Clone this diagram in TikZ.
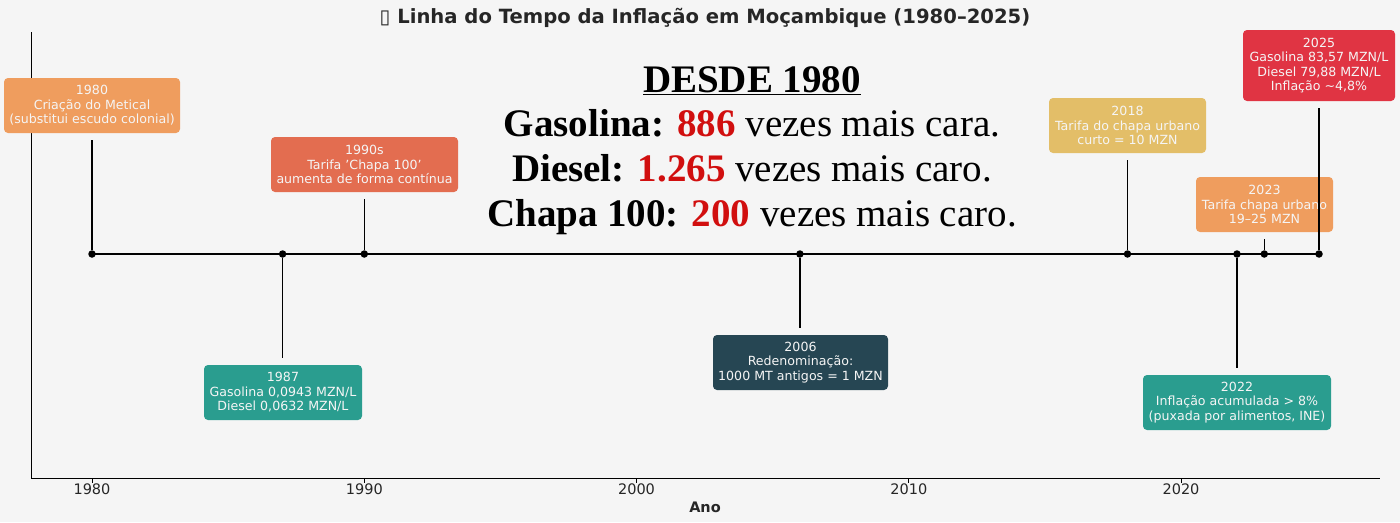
\documentclass[tikz,border=0pt]{standalone}
\usepackage{fontspec}
\setmainfont{DejaVu Sans}
\newfontfamily\bigserif{Liberation Serif}
\usetikzlibrary{positioning}

\definecolor{bgcol}{HTML}{F5F5F5}
\definecolor{darkteal}{HTML}{264653}
\definecolor{teal}{HTML}{2A9D8F}
\definecolor{saffron}{HTML}{E3BE68}
\definecolor{sandy}{HTML}{EF9D5E}
\definecolor{burnt}{HTML}{E36D50}
\definecolor{crimson}{HTML}{E03443}
\definecolor{numred}{HTML}{D10F0F}

\tikzset{
  evbox/.style={rounded corners=4pt, text=white!96!black,
    align=center, inner sep=0pt, font=\fontsize{12.6}{14.5}\selectfont},
  evdot/.style={circle, fill=black, inner sep=0pt, minimum size=7.5pt},
  stem/.style={line width=1.3pt, shorten >=7pt},
  bigline/.style={anchor=base, font=\bigserif\fontsize{39}{44}\selectfont},
}

\begin{document}
\begin{tikzpicture}[x=1pt,y=-1pt]
    % background and frame
    \fill[bgcol] (0,0) rectangle (1400,522);
    \useasboundingbox (0,0) rectangle (1400,522);

    \node[font=\bfseries\fontsize{19.6}{21}\selectfont, text=black!85] (title) at (705,18)
        {▯ Linha do Tempo da Inflação em Moçambique (1980–2025)};

    % axes
    \draw[line width=1pt] (31,32) -- (31,478) -- (1380,478);
    \foreach \yr/\xx in {1980/92, 1990/364.3, 2000/636.5, 2010/908.8, 2020/1181} {
        \draw[line width=0.8pt] (\xx,478) -- (\xx,482.5);
        \node[font=\fontsize{14.5}{16}\selectfont, text=black!85] (tick\yr) at (\xx,489) {\yr};
    }
    \node[font=\bfseries\fontsize{14.5}{16}\selectfont, text=black!85] (xlabel) at (705,507) {Ano};

    % timeline
    \draw[line width=2.3pt] (92,254) -- (1319,254);
    \node[evdot] (p1980) at (92,254) {};
    \node[evdot] (p1987) at (282.6,254) {};
    \node[evdot] (p1990) at (364.3,254) {};
    \node[evdot] (p2006) at (799.9,254) {};
    \node[evdot] (p2018) at (1127.5,254) {};
    \node[evdot] (p2022) at (1237,254) {};
    \node[evdot] (p2023) at (1264.3,254) {};
    \node[evdot] (p2025) at (1319,254) {};

    % event boxes
    \node[evbox, fill=sandy, minimum width=176pt, minimum height=55pt] (b1980) at (92,105.5)
        {1980\\Criação do Metical\\(substitui escudo colonial)};
    \node[evbox, fill=teal, minimum width=158pt, minimum height=55pt] (b1987) at (283,392.5)
        {1987\\Gasolina 0,0943 MZN/L\\Diesel 0,0632 MZN/L};
    \node[evbox, fill=burnt, minimum width=187pt, minimum height=55pt] (b1990) at (364.5,164.5)
        {1990s\\Tarifa 'Chapa 100'\\aumenta de forma contínua};
    \node[evbox, fill=darkteal, minimum width=175pt, minimum height=55pt] (b2006) at (800.5,362.5)
        {2006\\Redenominação:\\1000 MT antigos = 1 MZN};
    \node[evbox, fill=saffron, minimum width=157pt, minimum height=55pt] (b2018) at (1127.5,125.5)
        {2018\\Tarifa do chapa urbano\\curto = 10 MZN};
    \node[evbox, fill=teal, minimum width=188pt, minimum height=55pt] (b2022) at (1237,402.5)
        {2022\\Inflação acumulada > 8\%\\(puxada por alimentos, INE)};
    \node[evbox, fill=sandy, minimum width=137pt, minimum height=55pt] (b2023) at (1264.5,204.5)
        {2023\\Tarifa chapa urbano\\19–25 MZN};
    \node[evbox, fill=crimson, minimum width=152pt, minimum height=71pt] (b2025) at (1319,65.5)
        {2025\\Gasolina 83,57 MZN/L\\Diesel 79,88 MZN/L\\Inflação \textasciitilde4,8\%};

    % stems
    \draw[stem] (p1980) -- (p1980 |- b1980.south);
    \draw[stem] (p1987) -- (p1987 |- b1987.north);
    \draw[stem] (p1990) -- (p1990 |- b1990.south);
    \draw[stem] (p2006) -- (p2006 |- b2006.north);
    \draw[stem] (p2018) -- (p2018 |- b2018.south);
    \draw[stem] (p2022) -- (p2022 |- b2022.north);
    \draw[stem] (p2023) -- (p2023 |- b2023.south);
    \draw[stem] (p2025) -- (p2025 |- b2025.south);

    % summary text
    \node[bigline] (desde) at (752,92.3) {\textbf{\underline{DESDE 1980}}};
    \node[bigline] (gas) at (752,136.7)
        {\textbf{Gasolina:} \textbf{\textcolor{numred}{886}} vezes mais cara.};
    \node[bigline] (dies) at (752,181.5)
        {\textbf{Diesel:} \textbf{\textcolor{numred}{1.265}} vezes mais caro.};
    \node[bigline] (chapa) at (752,226)
        {\textbf{Chapa 100:} \textbf{\textcolor{numred}{200}} vezes mais caro.};
\end{tikzpicture}
\end{document}
